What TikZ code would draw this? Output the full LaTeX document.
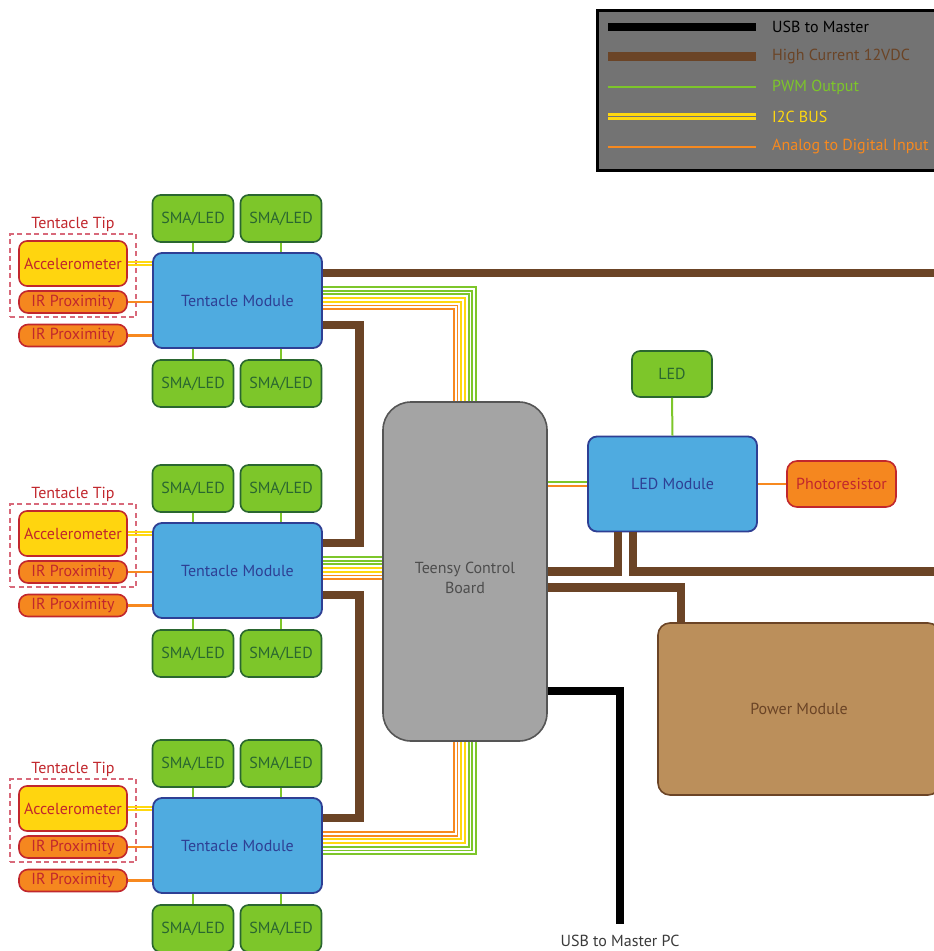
\documentclass[tikz,border=0pt]{standalone}
\usepackage{fontspec}
\setmainfont{PT Sans}
\usetikzlibrary{calc}
\definecolor{hcbrown}{HTML}{6B4426}
\definecolor{pwmc}{HTML}{7DC62A}
\definecolor{i2cc}{HTML}{FFD80F}
\definecolor{adcc}{HTML}{F7891F}
\definecolor{modfill}{HTML}{4FABE0}
\definecolor{modline}{HTML}{2E3F94}
\definecolor{smafill}{HTML}{7DC62A}
\definecolor{smaline}{HTML}{2A6630}
\definecolor{redline}{HTML}{C1272D}
\definecolor{tipred}{HTML}{D8697A}
\definecolor{accfill}{HTML}{FFD50F}
\definecolor{orfill}{HTML}{F5871F}
\definecolor{tbfill}{HTML}{A4A4A4}
\definecolor{tbline}{HTML}{555555}
\definecolor{tbtext}{HTML}{4D4D4D}
\definecolor{legfill}{HTML}{737373}
\definecolor{pwfill}{HTML}{BB8F5B}
\definecolor{usbtext}{HTML}{3A3A3A}
\begin{document}
\begin{tikzpicture}[x=1pt,y=-1pt,
  txt/.style={font=\fontsize{16}{20}\selectfont},
  box/.style={txt, draw, rounded corners=8pt, inner sep=0pt, align=center},
  module/.style={box, fill=modfill, draw=modline, text=modline, line width=1.8pt, minimum width=169pt, minimum height=95pt, rounded corners=9pt},
  sma/.style={box, fill=smafill, draw=smaline, text=smaline, line width=1.6pt, minimum width=81pt, minimum height=47pt},
  accel/.style={box, fill=accfill, draw=redline, text=redline, line width=1.6pt, minimum width=108pt, minimum height=45pt},
  irbox/.style={box, fill=orfill, draw=redline, text=redline, line width=1.6pt, minimum width=108pt, minimum height=22pt, rounded corners=9pt},
  tipbox/.style={draw=tipred, line width=1.2pt, dash pattern=on 5pt off 3.5pt, inner sep=0pt, minimum width=126pt, minimum height=83pt},
  hc/.style={draw=hcbrown, line width=8.5pt},
  usb/.style={draw=black, line width=8pt},
  pwm/.style={draw=pwmc, line width=2pt},
  i2c/.style={draw=i2cc, line width=1.9pt},
  adc/.style={draw=adcc, line width=2pt},
  legtext/.style={txt, anchor=west, inner sep=0pt}
]
\useasboundingbox (0,0) rectangle (934,951);
\clip (0,0) rectangle (934,951);

% legend
\node[draw=black, line width=3pt, fill=legfill, minimum width=350pt, minimum height=160pt, anchor=north west, inner sep=0pt] (leg) at (595.5,8.5) {};
\draw[usb] (608,26.5) -- (756,26.5);
\draw[hc] (608,56.5) -- (756,56.5);
\draw[pwm] (608,87) -- (756,87);
\draw[i2c, line width=2.2pt] (608,114.5) -- (756,114.5);
\draw[i2c, line width=2.2pt] (608,118.5) -- (756,118.5);
\draw[adc] (608,147) -- (756,147);
\node[legtext, text=black] (l1) at (772,26.5) {USB to Master};
\node[legtext, text=hcbrown] (l2) at (772,56.5) {High Current 12VDC};
\node[legtext, text=pwmc] (l3) at (772,87) {PWM Output};
\node[legtext, text=i2cc] (l4) at (772,116.5) {I2C BUS};
\node[legtext, text=adcc] (l5) at (772,147) {Analog to Digital Input};

% tentacle groups
\foreach \k/\dy in {1/0, 2/270, 3/545} {
  \node[module] (m\k) at (237.5,300.5+\dy) {Tentacle Module};
  \node[sma] (sa\k) at (193,218.5+\dy) {SMA/LED};
  \node[sma] (sb\k) at (281,218.5+\dy) {SMA/LED};
  \node[sma] (sc\k) at (193,383.5+\dy) {SMA/LED};
  \node[sma] (sd\k) at (281,383.5+\dy) {SMA/LED};
  \node[tipbox, label={[txt, text=redline, label distance=-2pt]above:Tentacle Tip}] (tip\k) at (73,275.5+\dy) {};
  \node[accel] (ac\k) at (73,263.5+\dy) {Accelerometer};
  \node[irbox] (ira\k) at (73,302+\dy) {IR Proximity};
  \node[irbox] (irb\k) at (73,335.5+\dy) {IR Proximity};
  \draw[pwm] (sa\k.south) -- (sa\k.south |- m\k.north);
  \draw[pwm] (sb\k.south) -- (sb\k.south |- m\k.north);
  \draw[pwm] (sc\k.north) -- (sc\k.north |- m\k.south);
  \draw[pwm] (sd\k.north) -- (sd\k.north |- m\k.south);
  \draw[i2c] ($(ac\k.east)+(0,-1.8)$) coordinate (ta) -- (ta -| m\k.west);
  \draw[i2c] ($(ac\k.east)+(0,1.8)$) coordinate (tb) -- (tb -| m\k.west);
  \draw[adc, line width=2.4pt] (ira\k.east) -- (ira\k.east -| m\k.west);
  \draw[adc, line width=2.4pt] (irb\k.east) -- (irb\k.east -| m\k.west);
}

% teensy board
\node[draw=tbline, fill=tbfill, line width=1.6pt, rounded corners=28pt, minimum width=164pt, minimum height=339pt, inner sep=0pt,
  label={[txt, text=tbtext, align=center, yshift=-6pt]center:Teensy Control\\Board}] (tbd) at (465,571.5) {};

% LED module etc.
\node[module] (lm) at (672.5,484) {LED Module};
\node[sma] (ledb) at (672,374) [minimum width=80pt, minimum height=46pt] {LED};
\node[irbox, minimum width=109pt, minimum height=46pt, rounded corners=10pt] (pr) at (841.5,484) {Photoresistor};
\node[box, fill=pwfill, draw=hcbrown, text=hcbrown, line width=1.6pt, minimum width=282pt, minimum height=172pt, rounded corners=12pt] (pw) at (799,709) {Power Module};

% high current lines
\draw[hc] ($(m1.east)+(0,-27.5)$) -- ++(640,0);
\draw[hc] ($(m1.east)+(0,24.5)$) -- ++(36.5,0) |- ($(m2.east)+(0,-27.5)$);
\draw[hc] ($(m2.east)+(0,24.5)$) -- ++(36.5,0) |- ($(m3.east)+(0,-27.5)$);
\coordinate (yb) at (0,571.5);
\coordinate (yc) at (0,587.5);
\coordinate (ru) at (950,571.5);
\draw[hc] ($(lm.south west)+(31,0)$) |- (tbd.east |- yb);
\draw[hc] ($(lm.south west)+(46,0)$) |- (ru);
\draw[hc] (tbd.east |- yc) -| ($(pw.north west)+(24,0)$);

% usb
\coordinate (yu) at (0,690.5);
\coordinate (usbend) at (619.5,924);
\draw[usb] (tbd.east |- yu) -| (usbend);
\node[txt, text=usbtext, inner sep=0pt] (usbl) at (620,941) {USB to Master PC};

% signal bundles
\foreach \c [count=\i from 0] in {pwmc,pwmc,pwmc,i2cc,i2cc,adcc,adcc} {
  \draw[draw=\c, line width=1.9pt] ($(m1.east)+(0,-13.5+3.7*\i)$) -| ($(tbd.north)+(11-3.7*\i,0)$);
  \draw[draw=\c, line width=1.9pt] ($(m2.east)+(0,-13.5+3.7*\i)$) coordinate (s) -- (s -| tbd.west);
}
\foreach \c [count=\i from 0] in {adcc,adcc,i2cc,i2cc,pwmc,pwmc,pwmc} {
  \draw[draw=\c, line width=1.9pt] ($(m3.east)+(0,-13.5+3.7*\i)$) -| ($(tbd.south)+(-11.2+3.7*\i,0)$);
}
\draw[pwm] ($(lm.west)+(0,-2)$) coordinate (g) -- (g -| tbd.east);
\draw[adc] ($(lm.west)+(0,2)$) coordinate (o) -- (o -| tbd.east);
\draw[pwm] (ledb.south) -- (lm.north);
\draw[adc] (lm.east) -- (pr.west);
\end{tikzpicture}
\end{document}
